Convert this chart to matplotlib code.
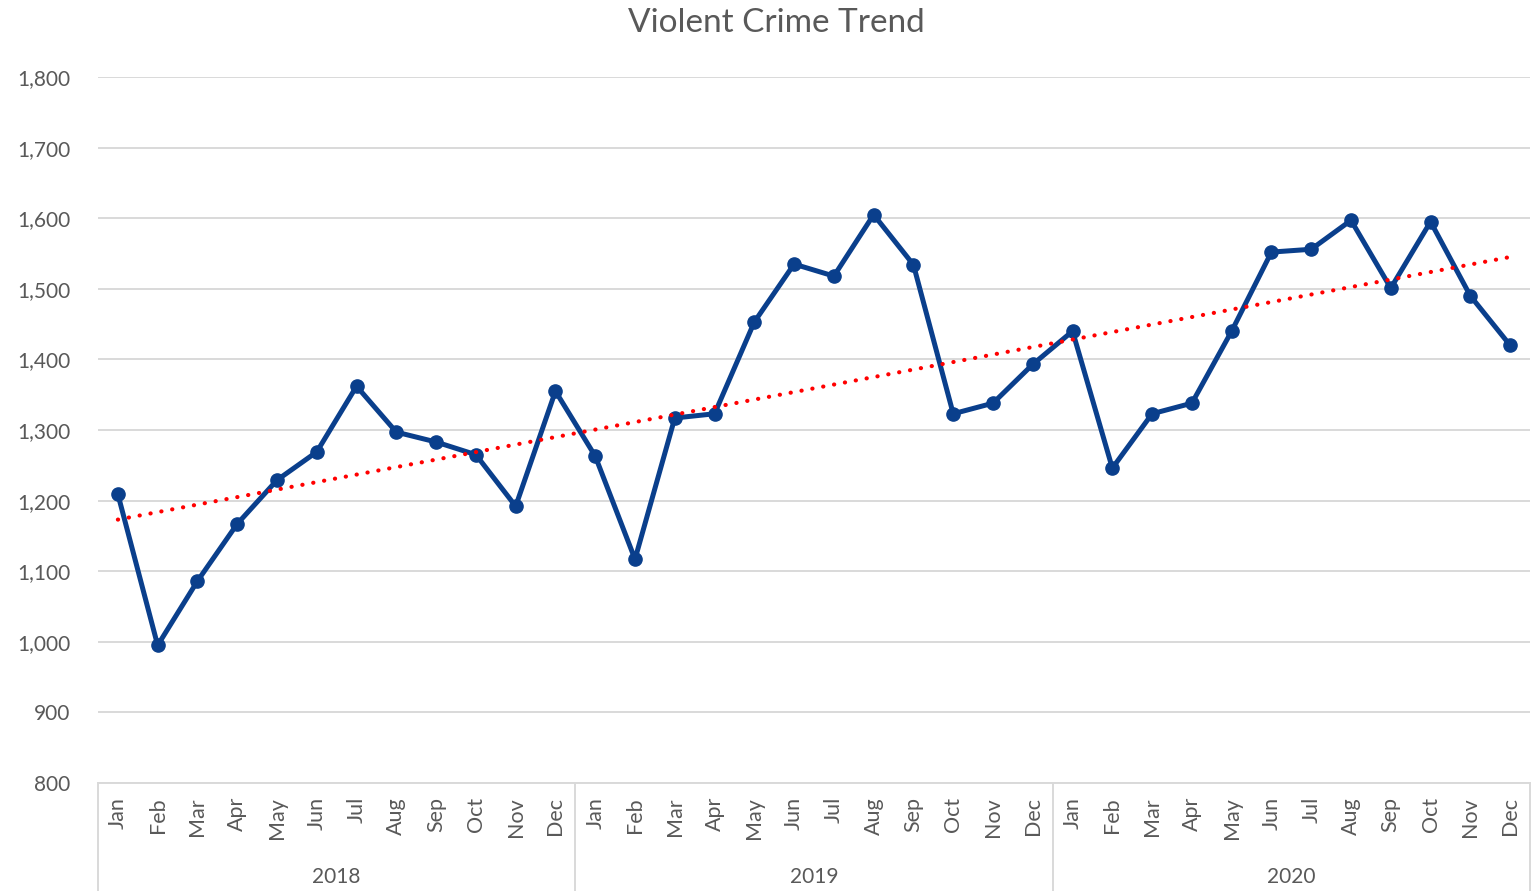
import numpy as np
import matplotlib
matplotlib.use("Agg")
import matplotlib.pyplot as plt
from matplotlib.ticker import FuncFormatter, MultipleLocator

plt.rcParams['font.family'] = ['Lato', 'DejaVu Sans']

years = ["2018", "2019", "2020"]
months = ["Jan", "Feb", "Mar", "Apr", "May", "Jun",
          "Jul", "Aug", "Sep", "Oct", "Nov", "Dec"]
crimes_2018 = [1209, 995, 1086, 1167, 1229, 1269, 1362, 1297, 1283, 1265, 1192, 1355]
crimes_2019 = [1263, 1117, 1317, 1323, 1453, 1535, 1518, 1605, 1534, 1323, 1338, 1393]
crimes_2020 = [1440, 1246, 1323, 1338, 1440, 1552, 1556, 1597, 1501, 1595, 1490, 1420]

values = np.array(crimes_2018 + crimes_2019 + crimes_2020, dtype=float)
x = np.arange(len(values))

text_color = "#595959"
grid_color = "#d9d9d9"
line_color = "#0a3f8c"

fig = plt.figure(figsize=(15.38, 8.91), dpi=100)
ax = fig.add_axes([98 / 1538, 1 - 783 / 891, (1530 - 98) / 1538, (783 - 77) / 891])

ax.plot(x, values, color=line_color, linewidth=3.6, marker="o",
        markersize=9.5, zorder=3, solid_joinstyle="round")

# linear trend line
slope, intercept = np.polyfit(x, values, 1)
ax.plot(x, slope * x + intercept, color="#ff0000", linewidth=3.0,
        linestyle=(0, (0.05, 2.6)), dash_capstyle="round", zorder=4)

ax.set_xlim(-0.5, len(values) - 0.5)
ax.set_ylim(800, 1800)
ax.yaxis.set_major_locator(MultipleLocator(100))
ax.yaxis.set_major_formatter(FuncFormatter(lambda v, p: f"{int(v):,}"))
ax.grid(axis="y", color=grid_color, linewidth=1.4, zorder=0)
ax.set_axisbelow(True)

for side in ["left", "right", "top"]:
    ax.spines[side].set_visible(False)
ax.spines["bottom"].set_color(grid_color)
ax.spines["bottom"].set_linewidth(1.4)

ax.tick_params(axis="y", length=0, pad=20, labelsize=15, labelcolor=text_color)
ax.tick_params(axis="x", length=0, bottom=False, labelbottom=False)

# two-level category axis: months then years
trans = ax.get_xaxis_transform()
for i in range(len(values)):
    ax.text(i, -0.02, months[i % 12], transform=trans, rotation=90,
            ha="center", va="top", fontsize=15.5, color=text_color)
for g, yr in enumerate(years):
    ax.text(g * 12 + 5.5, -0.133, yr, transform=trans, ha="center", va="center",
            fontsize=15, color=text_color)
for b in range(len(years) + 1):
    ax.plot([b * 12 - 0.5, b * 12 - 0.5], [0, -0.155], transform=trans,
            color=grid_color, linewidth=1.4, clip_on=False)

fig.text(776 / 1538, 1 - 23 / 891, "Violent Crime Trend", ha="center", va="center",
         fontsize=24, color=text_color)

fig.savefig("out.png", dpi=100, facecolor="white")
